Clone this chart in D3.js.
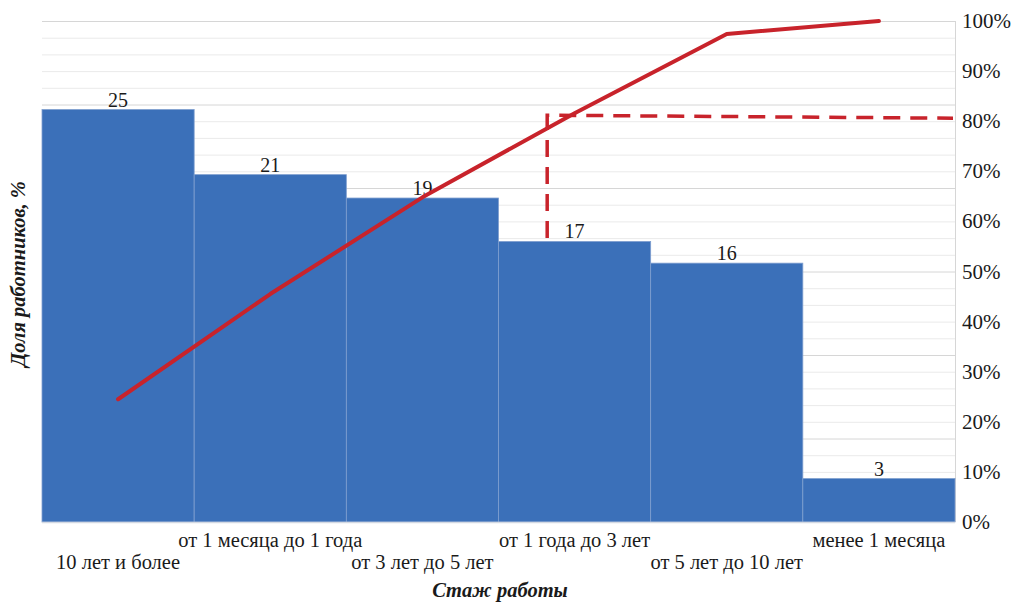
<!DOCTYPE html>
<html>
<head>
<meta charset="utf-8">
<script src="https://cdn.jsdelivr.net/npm/d3@7"></script>
<style>
  html, body { margin: 0; padding: 0; background: #ffffff; }
  svg { display: block; }
  text { font-family: "Liberation Serif", "Times New Roman", serif; fill: #1a1a1a; }
</style>
</head>
<body>
<svg id="chart" width="1021" height="603"></svg>
<script>
// ---- data ----
const categories = ["10 лет и более", "от 1 месяца до 1 года", "от 3 лет до 5 лет",
                    "от 1 года до 3 лет", "от 5 лет до 10 лет", "менее 1 месяца"];
const shares = [24.7, 20.8, 19.4, 16.8, 15.5, 2.6];          // % of workers (bars)
const shareLabels = ["25", "21", "19", "17", "16", "3"];
const cumulative = [0.245, 0.455, 0.648, 0.816, 0.974, 1.0];   // cumulative share (line)
const rightTicks = [0, 0.1, 0.2, 0.3, 0.4, 0.5, 0.6, 0.7, 0.8, 0.9, 1.0];
const cutoffPos = 2.82;           // category position of dashed vertical
const cutoffFrom = 17;            // left-axis value where dashed line starts
const cutoffLevel = [0.812, 0.806]; // right-axis level of dashed horizontal (start, end)
const xTitle = "Стаж работы";
const yTitle = "Доля работников, %";

// ---- layout ----
const svg = d3.select("#chart");
const pL = 42, pR = 955, pT = 21, pB = 522;

const x = d3.scaleBand().domain(categories).range([pL, pR]).padding(0);
const xPos = d3.scaleLinear().domain([-0.5, categories.length - 0.5]).range([pL, pR]);
const yL = d3.scaleLinear().domain([0, 30]).range([pB, pT]);
const yR = d3.scaleLinear().domain([0, 1]).range([pB, pT]);

// gridlines
const minor = d3.range(0, 31, 1).filter(v => v % 5 !== 0);
const major = d3.range(0, 31, 5);
svg.append("g").selectAll("line").data(minor).join("line")
  .attr("x1", pL).attr("x2", pR)
  .attr("y1", d => yL(d) + 0.5).attr("y2", d => yL(d) + 0.5)
  .attr("stroke", "#eaeaea").attr("stroke-width", 1);
svg.append("g").selectAll("line").data(major).join("line")
  .attr("x1", pL).attr("x2", pR)
  .attr("y1", d => yL(d) + 0.5).attr("y2", d => yL(d) + 0.5)
  .attr("stroke", "#d6d6d6").attr("stroke-width", 1);
svg.append("line").attr("x1", pR + 0.5).attr("x2", pR + 0.5)
  .attr("y1", pT).attr("y2", pB).attr("stroke", "#d6d6d6");

// bars
svg.append("g").selectAll("rect").data(shares).join("rect")
  .attr("x", (d, i) => x(categories[i]))
  .attr("y", d => yL(d))
  .attr("width", x.bandwidth())
  .attr("height", d => yL(0) - yL(d))
  .attr("fill", "#3b70b9")
  .attr("stroke", "#7f9fcf").attr("stroke-width", 0.8);

// baseline
svg.append("line").attr("x1", pL).attr("x2", pR)
  .attr("y1", pB + 0.5).attr("y2", pB + 0.5)
  .attr("stroke", "#d4d9e2").attr("stroke-width", 1.5);

// bar labels
svg.append("g").selectAll("text").data(shares).join("text")
  .attr("x", (d, i) => x(categories[i]) + x.bandwidth() / 2)
  .attr("y", d => yL(d) - 3)
  .attr("text-anchor", "middle")
  .attr("font-size", 20)
  .text((d, i) => shareLabels[i]);

// dashed Pareto cutoff
const dashPts = [
  [xPos(cutoffPos), yL(cutoffFrom)],
  [xPos(cutoffPos), yR(cutoffLevel[0])],
  [pR - 2, yR(cutoffLevel[1])]
];
svg.append("path")
  .attr("d", d3.line()(dashPts))
  .attr("fill", "none").attr("stroke", "#c8232b")
  .attr("stroke-width", 3.5).attr("stroke-dasharray", "17,10");

// cumulative line
svg.append("path")
  .datum(cumulative)
  .attr("d", d3.line().x((d, i) => x(categories[i]) + x.bandwidth() / 2).y(d => yR(d)))
  .attr("fill", "none").attr("stroke", "#c8232b")
  .attr("stroke-width", 4).attr("stroke-linecap", "round").attr("stroke-linejoin", "round");

// right axis labels
svg.append("g").selectAll("text").data(rightTicks).join("text")
  .attr("x", 962)
  .attr("y", d => yR(d) + 7)
  .attr("font-size", 21)
  .text(d => Math.round(d * 100) + "%");

// x category labels (staggered)
svg.append("g").selectAll("text").data(categories).join("text")
  .attr("x", d => x(d) + x.bandwidth() / 2)
  .attr("y", (d, i) => i % 2 === 0 ? 569 : 547)
  .attr("text-anchor", "middle")
  .attr("font-size", 20.5)
  .text(d => d);

// axis titles
svg.append("text")
  .attr("x", 500).attr("y", 597)
  .attr("text-anchor", "middle")
  .attr("font-size", 20.5).attr("font-weight", "bold").attr("font-style", "italic")
  .text(xTitle);
svg.append("text")
  .attr("transform", "translate(25,274) rotate(-90)")
  .attr("text-anchor", "middle")
  .attr("font-size", 20.5).attr("font-weight", "bold").attr("font-style", "italic")
  .text(yTitle);
</script>
</body>
</html>
